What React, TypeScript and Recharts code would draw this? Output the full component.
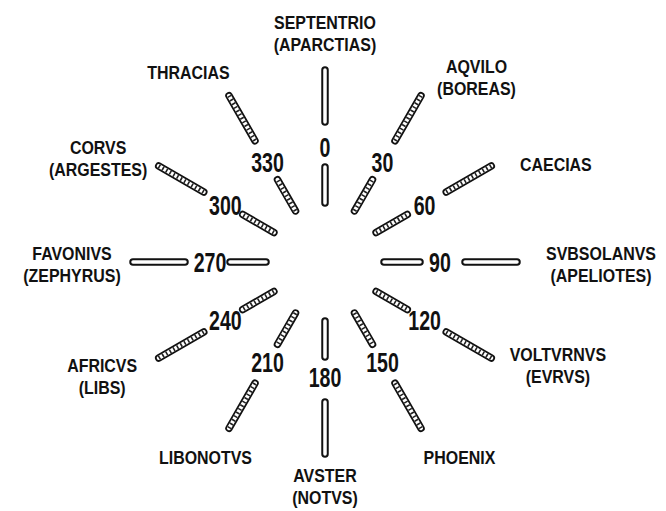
import { ScatterChart, Scatter, XAxis, YAxis, ReferenceLine } from 'recharts';

const degrees = [0, 30, 60, 90, 120, 150, 180, 210, 240, 270, 300, 330];
const degreeLabels = ['0', '30', '60', '90', '120', '150', '180', '210', '240', '270', '300', '330'];
const windNames = [
  'SEPTENTRIO', 'AQVILO', 'CAECIAS', 'SVBSOLANVS', 'VOLTVRNVS', 'PHOENIX',
  'AVSTER', 'LIBONOTVS', 'AFRICVS', 'FAVONIVS', 'CORVS', 'THRACIAS',
];
const greekNames = [
  '(APARCTIAS)', '(BOREAS)', '', '(APELIOTES)', '(EVRVS)', '',
  '(NOTVS)', '', '(LIBS)', '(ZEPHYRUS)', '(ARGESTES)', '',
];

// layout
const W = 666;
const H = 511;
const CX = 325;
const CY = 262;
const INNER = [59, 95];
const OUTER = [140, 192];
const LABEL_R = 115;
const NAME_SIZE = 19;
const LINE_GAP = 22;
// name position relative to the outer end of its rod: dx, dy (down is +)
const nameOffsets = [
  [0, -45], [54, -27], [62, 0], [81, -9], [64, -5], [37, 26],
  [0, 18], [-22, 26], [-54, 6], [-58, -9], [-58, -17], [-39, -21],
];

const FONT = '"Liberation Sans", Arial, sans-serif';

const polar = (deg: number, r: number) => {
  const a = (deg * Math.PI) / 180;
  return { x: r * Math.sin(a), y: r * Math.cos(a) };
};

const rods = degrees.flatMap((deg) =>
  [INNER, OUTER].map(([r1, r2]) => ({
    deg,
    a: polar(deg, r1),
    b: polar(deg, r2),
    hatched: deg % 90 !== 0,
  }))
);

const degreePoints = degrees.map((deg, i) => ({ ...polar(deg, LABEL_R), label: degreeLabels[i] }));

const namePoints = degrees.map((deg, i) => {
  const end = polar(deg, 195);
  const [dx, dy] = nameOffsets[i];
  return { x: end.x + dx, y: end.y - dy, name: windNames[i], alt: greekNames[i] };
});

function Rod(props: any) {
  const { x1, y1, x2, y2, hatched } = props;
  const pts = { x1, y1, x2, y2 };
  return (
    <g>
      <line {...pts} stroke="#111" strokeWidth={7.5} strokeLinecap="round" />
      <line {...pts} stroke="#fff" strokeWidth={hatched ? 4 : 3.5} strokeLinecap="round" />
      {hatched && <line {...pts} stroke="#222" strokeWidth={4} strokeDasharray="1.6 2.6" />}
    </g>
  );
}

function DegreeText(props: any) {
  const { cx, cy, payload } = props;
  return (
    <text
      transform={`translate(${cx} ${cy + 10}) scale(0.7 1)`}
      textAnchor="middle"
      fontFamily={FONT}
      fontWeight="bold"
      fontSize={28}
      fill="#111"
    >
      {payload.label}
    </text>
  );
}

function NameText(props: any) {
  const { cx, cy, payload } = props;
  const base = NAME_SIZE * 0.36;
  return (
    <g fontFamily={FONT} fontSize={NAME_SIZE} fontWeight="bold" fill="#111" textAnchor="middle">
      <text transform={`translate(${cx} ${cy + base}) scale(0.84 1)`}>{payload.name}</text>
      {payload.alt && (
        <text transform={`translate(${cx} ${cy + base + LINE_GAP}) scale(0.84 1)`}>{payload.alt}</text>
      )}
    </g>
  );
}

export default function App() {
  return (
    <div style={{ position: 'absolute', left: 0, top: 0, width: W, height: H, background: '#fff' }}>
      <ScatterChart width={W} height={H} margin={{ top: 0, right: 0, bottom: 0, left: 0 }}>
        <XAxis type="number" dataKey="x" domain={[-CX, W - CX]} hide allowDataOverflow />
        <YAxis type="number" dataKey="y" domain={[CY - H, CY]} hide allowDataOverflow />
        {rods.map((r, i) => (
          <ReferenceLine
            key={i}
            segment={[{ x: r.a.x, y: r.a.y }, { x: r.b.x, y: r.b.y }]}
            ifOverflow="visible"
            shape={(p: any) => <Rod {...p} hatched={r.hatched} />}
          />
        ))}
        <Scatter data={degreePoints} shape={DegreeText} isAnimationActive={false} />
        <Scatter data={namePoints} shape={NameText} isAnimationActive={false} />
      </ScatterChart>
    </div>
  );
}
